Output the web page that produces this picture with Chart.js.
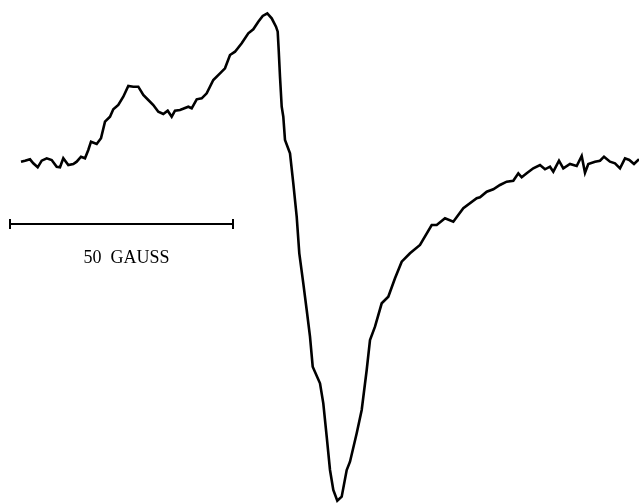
<!DOCTYPE html>
<html>
<head>
<meta charset="utf-8">
<script src="https://cdn.jsdelivr.net/npm/chart.js@4"></script>
<style>
html,body{margin:0;padding:0;background:#fff;}
#wrap{width:639px;height:504px;}
</style>
</head>
<body>
<div id="wrap"><canvas id="c" width="639" height="504"></canvas></div>
<script>
// Field position (arbitrary plot units) and signal deflection (downward-positive units)
const fieldX = [21,25,30,33.3,37.7,41.7,46.7,51.7,56.7,60,63.3,68.3,73.3,76.7,81,85,88.3,91,96.7,101,105,110,113.3,118.3,123.3,128.3,133.3,138.3,143.3,148.3,153.3,158.3,163.3,167.7,171.7,175,180,188.3,191.7,196.7,201.7,206.7,213.3,220,225,230,235,241.7,248.3,253.3,258.3,262.7,267.3,271.7,276,277.7,278.7,280,281.7,283.3,285,290,293.3,296.7,299.3,303.3,306.7,310,312.7,320,323.3,326.7,330,333.3,337.3,341.7,346.7,350,356.7,361.7,366.7,370,375,381.7,388.3,395,401.7,410,420,431.7,436.7,445,453.3,463.3,476.7,480,486.7,493.3,500,506.7,513.3,518.3,521.7,526.7,533.3,540,545,550,553.3,559,563.3,570,576.7,581.7,585,588.3,595,600,604,610,615,620,625,629.3,634,639];
const signalY = [161.7,160.7,159.3,163.3,167.3,160.7,158.3,160,166.7,167.3,158.3,165,164,161.7,156.7,158.3,150,141.7,144,138.3,121.7,116.7,109.3,105,96.7,86,86.7,86.7,95,100,105,111.7,114,110.7,116.7,110.7,110,106.7,108.3,99.3,98.3,93.3,80,73.3,68.3,55,51.7,43.3,33.3,29.3,21.7,16,13.3,18.3,26.7,31.7,50,76.7,106.7,116.7,140,153.3,183.3,216.7,253.3,283.3,310,336.7,366.7,383.3,403.3,436.7,470,490,500.7,496.7,470,461.7,433.3,410,370,340,326.7,303.3,296.7,278.3,261.7,253.3,245,225,225,218.3,221.7,208.3,198.3,197.3,191.7,189.3,185,181.7,180.7,173.3,177.3,173.3,168.3,165,169.3,166.7,171.7,160.7,168.3,164,166,156,172.7,164,161.7,160.7,156.7,161.7,163.3,168.3,158.3,160,164,159.3];
const scaleBarX = [10, 233];
const scaleBarY = [224, 224];
const scaleLabel = "50  GAUSS";
const scaleLabelPos = [126.5, 258];

const spectrum = fieldX.map((x, i) => ({x: x, y: signalY[i]}));
const bar = scaleBarX.map((x, i) => ({x: x, y: scaleBarY[i]}));

const labelPlugin = {
  id: 'scaleLabel',
  afterDatasetsDraw(chart) {
    const {ctx, scales} = chart;
    const cx = scales.x.getPixelForValue(scaleLabelPos[0]);
    const cy = scales.y.getPixelForValue(scaleLabelPos[1]);
    ctx.save();
    ctx.fillStyle = '#000';
    ctx.font = '18px "Liberation Serif", "DejaVu Serif", serif';
    ctx.textAlign = 'center';
    ctx.textBaseline = 'middle';
    ctx.fillText(scaleLabel, cx, cy);
    ctx.restore();
  }
};

new Chart(document.getElementById('c'), {
  type: 'scatter',
  data: {
    datasets: [
      {
        data: spectrum,
        showLine: true,
        borderColor: '#000',
        borderWidth: 2.6,
        pointRadius: 0,
        tension: 0,
        fill: false,
        clip: false
      },
      {
        data: bar,
        showLine: true,
        borderColor: '#000',
        borderWidth: 2,
        pointStyle: 'line',
        rotation: 90,
        pointRadius: 5,
        pointBorderWidth: 2,
        pointBorderColor: '#000',
        fill: false,
        clip: false
      }
    ]
  },
  options: {
    responsive: false,
    animation: false,
    layout: {padding: 0, autoPadding: false},
    plugins: {legend: {display: false}, tooltip: {enabled: false}},
    scales: {
      x: {type: 'linear', min: 0, max: 639, display: false},
      y: {type: 'linear', min: 0, max: 504, reverse: true, display: false}
    }
  },
  plugins: [labelPlugin]
});
</script>
</body>
</html>
